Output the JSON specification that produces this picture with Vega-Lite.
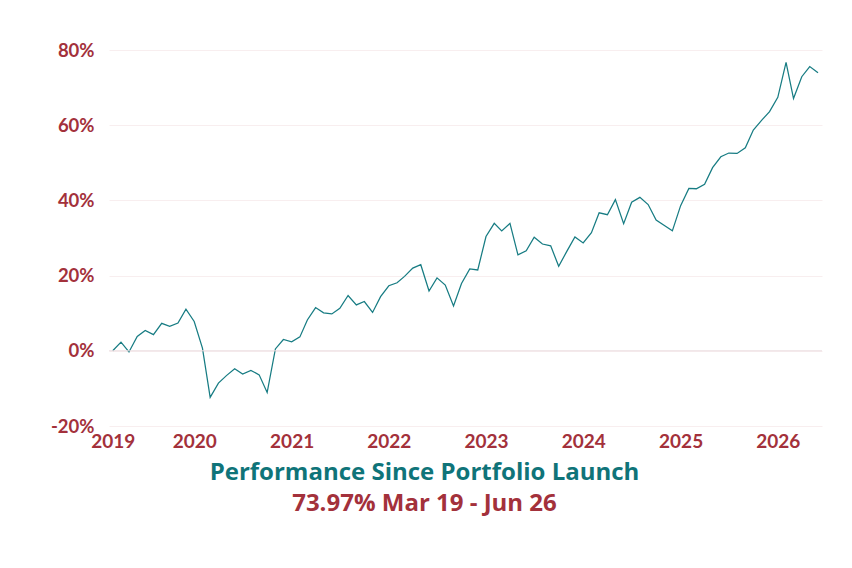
{
  "$schema": "https://vega.github.io/schema/vega-lite/v6.json",
  "width": 713,
  "height": 376,
  "autosize": {"type": "none"},
  "padding": {"left": 109, "top": 50, "right": 30, "bottom": 142},
  "background": "white",
  "config": {
    "view": {"stroke": null},
    "font": "Lato"
  },
  "title": {
    "text": "Performance Since Portfolio Launch",
    "subtitle": "73.97% Mar 19 - Jun 26",
    "orient": "bottom",
    "anchor": "middle",
    "frame": "bounds",
    "font": "Open Sans",
    "fontSize": 24,
    "fontWeight": "bold",
    "color": "#0f7479",
    "subtitleFont": "Open Sans",
    "subtitleFontSize": 24,
    "subtitleFontWeight": "bold",
    "subtitleColor": "#a3313b",
    "subtitlePadding": 7,
    "offset": 10,
    "dx": -12
  },
  "data": {
    "values": [
      {"date": "2019-03-01", "perf": 0},
      {"date": "2019-04-01", "perf": 2.3},
      {"date": "2019-05-01", "perf": -0.3},
      {"date": "2019-06-01", "perf": 3.8},
      {"date": "2019-07-01", "perf": 5.4},
      {"date": "2019-08-01", "perf": 4.3},
      {"date": "2019-09-01", "perf": 7.3},
      {"date": "2019-10-01", "perf": 6.5},
      {"date": "2019-11-01", "perf": 7.4},
      {"date": "2019-12-01", "perf": 11.1},
      {"date": "2020-01-01", "perf": 7.8},
      {"date": "2020-02-01", "perf": 0.7},
      {"date": "2020-03-01", "perf": -12.4},
      {"date": "2020-04-01", "perf": -8.6},
      {"date": "2020-05-01", "perf": -6.6},
      {"date": "2020-06-01", "perf": -4.8},
      {"date": "2020-07-01", "perf": -6.2},
      {"date": "2020-08-01", "perf": -5.2},
      {"date": "2020-09-01", "perf": -6.4},
      {"date": "2020-10-01", "perf": -11.1},
      {"date": "2020-11-01", "perf": 0.5},
      {"date": "2020-12-01", "perf": 3.0},
      {"date": "2021-01-01", "perf": 2.4},
      {"date": "2021-02-01", "perf": 3.7},
      {"date": "2021-03-01", "perf": 8.2},
      {"date": "2021-04-01", "perf": 11.5},
      {"date": "2021-05-01", "perf": 10.1},
      {"date": "2021-06-01", "perf": 9.8},
      {"date": "2021-07-01", "perf": 11.3},
      {"date": "2021-08-01", "perf": 14.7},
      {"date": "2021-09-01", "perf": 12.2},
      {"date": "2021-10-01", "perf": 13.1},
      {"date": "2021-11-01", "perf": 10.2},
      {"date": "2021-12-01", "perf": 14.4},
      {"date": "2022-01-01", "perf": 17.3},
      {"date": "2022-02-01", "perf": 18.1},
      {"date": "2022-03-01", "perf": 19.8},
      {"date": "2022-04-01", "perf": 22.0},
      {"date": "2022-05-01", "perf": 22.9},
      {"date": "2022-06-01", "perf": 15.9},
      {"date": "2022-07-01", "perf": 19.4},
      {"date": "2022-08-01", "perf": 17.5},
      {"date": "2022-09-01", "perf": 11.9},
      {"date": "2022-10-01", "perf": 17.9},
      {"date": "2022-11-01", "perf": 21.8},
      {"date": "2022-12-01", "perf": 21.5},
      {"date": "2023-01-01", "perf": 30.4},
      {"date": "2023-02-01", "perf": 33.9},
      {"date": "2023-03-01", "perf": 31.9},
      {"date": "2023-04-01", "perf": 33.9},
      {"date": "2023-05-01", "perf": 25.5},
      {"date": "2023-06-01", "perf": 26.6},
      {"date": "2023-07-01", "perf": 30.2},
      {"date": "2023-08-01", "perf": 28.4},
      {"date": "2023-09-01", "perf": 27.9},
      {"date": "2023-10-01", "perf": 22.5},
      {"date": "2023-11-01", "perf": 26.5},
      {"date": "2023-12-01", "perf": 30.3},
      {"date": "2024-01-01", "perf": 28.7},
      {"date": "2024-02-01", "perf": 31.4},
      {"date": "2024-03-01", "perf": 36.7},
      {"date": "2024-04-01", "perf": 36.2},
      {"date": "2024-05-01", "perf": 40.2},
      {"date": "2024-06-01", "perf": 33.8},
      {"date": "2024-07-01", "perf": 39.5},
      {"date": "2024-08-01", "perf": 40.8},
      {"date": "2024-09-01", "perf": 38.9},
      {"date": "2024-10-01", "perf": 34.8},
      {"date": "2024-11-01", "perf": 33.3},
      {"date": "2024-12-01", "perf": 31.9},
      {"date": "2025-01-01", "perf": 38.6},
      {"date": "2025-02-01", "perf": 43.2},
      {"date": "2025-03-01", "perf": 43.1},
      {"date": "2025-04-01", "perf": 44.3},
      {"date": "2025-05-01", "perf": 48.7},
      {"date": "2025-06-01", "perf": 51.6},
      {"date": "2025-07-01", "perf": 52.6},
      {"date": "2025-08-01", "perf": 52.5},
      {"date": "2025-09-01", "perf": 54.0},
      {"date": "2025-10-01", "perf": 58.7},
      {"date": "2025-11-01", "perf": 61.3},
      {"date": "2025-12-01", "perf": 63.6},
      {"date": "2026-01-01", "perf": 67.4},
      {"date": "2026-02-01", "perf": 76.7},
      {"date": "2026-03-01", "perf": 67.1},
      {"date": "2026-04-01", "perf": 72.9},
      {"date": "2026-05-01", "perf": 75.6},
      {"date": "2026-06-01", "perf": 73.97}
    ]
  },
  "layer": [
    {
      "mark": {"type": "line", "color": "#177c83", "strokeWidth": 1.25, "interpolate": "linear"},
      "encoding": {
        "x": {
          "field": "date",
          "type": "temporal",
          "scale": {
            "type": "utc",
            "domain": [
              {"year": 2019, "month": 2, "date": 15, "utc": true},
              {"year": 2026, "month": 6, "date": 16, "utc": true}
            ]
          },
          "axis": {
            "title": null,
            "labelExpr": "utcFormat(datum.value, '%Y')",
            "values": [
              {"year": 2019, "month": 3, "date": 1, "utc": true},
              {"year": 2020, "month": 1, "date": 1, "utc": true},
              {"year": 2021, "month": 1, "date": 1, "utc": true},
              {"year": 2022, "month": 1, "date": 1, "utc": true},
              {"year": 2023, "month": 1, "date": 1, "utc": true},
              {"year": 2024, "month": 1, "date": 1, "utc": true},
              {"year": 2025, "month": 1, "date": 1, "utc": true},
              {"year": 2026, "month": 1, "date": 1, "utc": true}
            ],
            "grid": false,
            "domain": false,
            "ticks": false,
            "labelFont": "Lato",
            "labelFontSize": 19,
            "labelFontWeight": "bold",
            "labelColor": "#a3313b",
            "labelPadding": 6,
            "labelFlush": false,
            "labelOverlap": false
          }
        },
        "y": {
          "field": "perf",
          "type": "quantitative",
          "scale": {"domain": [-20, 80], "nice": false, "zero": false},
          "axis": {
            "title": null,
            "values": [-20, 0, 20, 40, 60, 80],
            "labelExpr": "datum.value + '%'",
            "grid": true,
            "gridColor": "#f8eeef",
            "gridWidth": 1,
            "domain": false,
            "ticks": false,
            "labelFont": "Lato",
            "labelFontSize": 18.5,
            "labelFontWeight": "bold",
            "labelColor": "#a3313b",
            "labelPadding": 15
          }
        }
      }
    },
    {
      "data": {"values": [{"zero": 0}]},
      "mark": {"type": "rule", "color": "#ecdde0", "strokeWidth": 1},
      "encoding": {"y": {"field": "zero", "type": "quantitative"}}
    }
  ]
}
